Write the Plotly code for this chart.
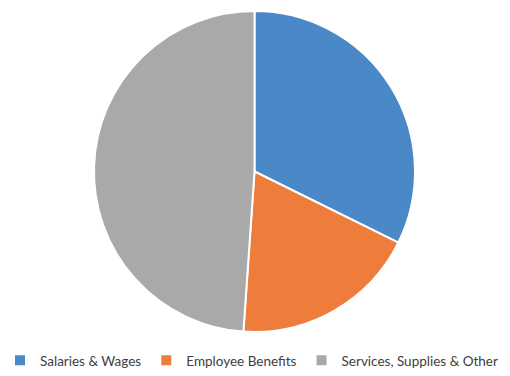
import plotly.graph_objects as go

labels = ["Salaries & Wages", "Employee Benefits", "Services, Supplies & Other"]
values = [32.3, 18.8, 48.9]
colors = ["#4a88c7", "#ee7d3c", "#a9a9a9"]

fig = go.Figure(go.Pie(
    labels=labels, values=values, sort=False, direction="clockwise", rotation=0,
    marker=dict(colors=colors, line=dict(color="white", width=2)),
    textinfo="none", hoverinfo="label+percent",
))
fig.update_layout(
    width=510, height=376,
    margin=dict(l=0, r=1, t=11, b=44),
    paper_bgcolor="white", plot_bgcolor="white",
    showlegend=True,
    legend=dict(orientation="h", x=0.49, xanchor="center",
                yref="container", y=0.0, yanchor="bottom",
                font=dict(family="Lato", size=13.5, color="#404040"),
                itemwidth=30, tracegroupgap=0),
)
fig.write_html("out.html")
